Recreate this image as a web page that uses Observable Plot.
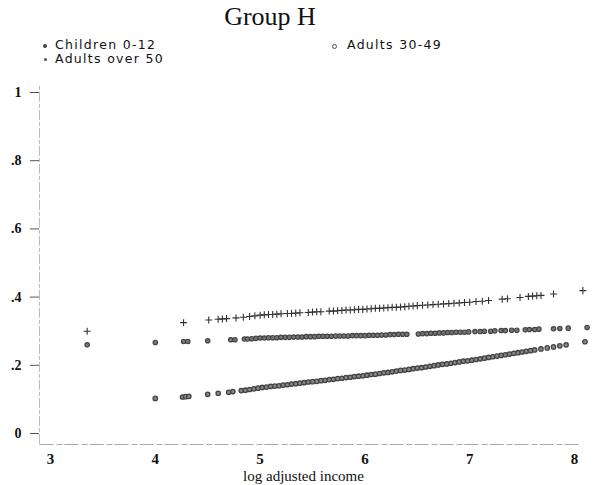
<!DOCTYPE html>
<html>
<head>
<meta charset="utf-8">
<script src="https://cdn.jsdelivr.net/npm/d3@7"></script>
<script src="https://cdn.jsdelivr.net/npm/@observablehq/plot@0.6"></script>
<style>
  html, body { margin: 0; padding: 0; background: #fff; }
  #wrap { position: relative; width: 601px; height: 485px; overflow: hidden; }
  #title { position: absolute; left: 0; width: 540px; top: 2px; text-align: center;
           font-family: "Liberation Serif", serif; font-size: 26px; color: #111; }
  .leg { position: absolute; font-family: "DejaVu Sans", sans-serif; font-size: 12.5px; line-height: 13px;
         letter-spacing: 1.3px; color: #111; white-space: nowrap; }
  .mk { display: inline-block; position: absolute; border-radius: 50%; }
  #chart { position: absolute; left: 0; top: 68px; }
</style>
</head>
<body>
<div id="wrap">
  <div id="title">Group H</div>
  <div class="leg" id="leg1" style="left:55px; top:38px;">Children 0-12</div>
  <div class="leg" id="leg2" style="left:347px; top:38px;">Adults 30-49</div>
  <div class="leg" id="leg3" style="left:55px; top:52px;">Adults over 50</div>
  <span class="mk" style="left:43px; top:44px; width:4px; height:4px; background:#444;"></span>
  <span class="mk" style="left:332px; top:44px; width:3px; height:3px; border:1px solid #555;"></span>
  <span class="mk" style="left:44px; top:58px; width:3px; height:3px; background:#555;"></span>
  <div id="chart"></div>
</div>
<script>
const seriesNames = ["Children 0-12", "Adults 30-49", "Adults over 50"];

const childX = [4.0, 4.26, 4.29, 4.32, 4.5, 4.6, 4.7, 4.74, 4.82, 4.86, 4.9, 4.94, 4.98, 5.02, 5.06, 5.1, 5.14, 5.18, 5.22, 5.26, 5.3, 5.34, 5.38, 5.42, 5.46, 5.5, 5.54, 5.58, 5.62, 5.66, 5.7, 5.74, 5.78, 5.82, 5.86, 5.9, 5.94, 5.98, 6.02, 6.06, 6.1, 6.14, 6.18, 6.22, 6.26, 6.3, 6.34, 6.38, 6.42, 6.46, 6.5, 6.54, 6.58, 6.62, 6.66, 6.7, 6.74, 6.78, 6.82, 6.86, 6.9, 6.94, 6.98, 7.02, 7.06, 7.1, 7.14, 7.18, 7.22, 7.26, 7.3, 7.34, 7.38, 7.42, 7.46, 7.5, 7.54, 7.58, 7.62, 7.68, 7.74, 7.8, 7.86, 7.92, 8.1];
const childY = [0.103, 0.107, 0.108, 0.109, 0.115, 0.118, 0.121, 0.123, 0.126, 0.127, 0.129, 0.131, 0.133, 0.135, 0.136, 0.138, 0.139, 0.140, 0.142, 0.143, 0.145, 0.146, 0.148, 0.149, 0.151, 0.152, 0.153, 0.155, 0.156, 0.158, 0.159, 0.161, 0.162, 0.164, 0.165, 0.167, 0.168, 0.169, 0.171, 0.173, 0.174, 0.176, 0.178, 0.179, 0.181, 0.183, 0.185, 0.186, 0.188, 0.190, 0.192, 0.193, 0.195, 0.197, 0.199, 0.201, 0.203, 0.204, 0.206, 0.208, 0.210, 0.212, 0.213, 0.215, 0.217, 0.219, 0.221, 0.223, 0.225, 0.227, 0.229, 0.231, 0.233, 0.235, 0.237, 0.239, 0.241, 0.243, 0.245, 0.248, 0.251, 0.254, 0.257, 0.260, 0.269];

const midX = [3.35, 4.0, 4.27, 4.31, 4.5, 4.72, 4.76, 4.85, 4.88, 4.92, 4.96, 5.0, 5.04, 5.08, 5.12, 5.16, 5.2, 5.24, 5.28, 5.32, 5.36, 5.4, 5.44, 5.48, 5.52, 5.56, 5.6, 5.64, 5.68, 5.72, 5.76, 5.8, 5.84, 5.88, 5.92, 5.96, 6.0, 6.04, 6.08, 6.12, 6.16, 6.2, 6.24, 6.28, 6.32, 6.36, 6.4, 6.51, 6.55, 6.59, 6.63, 6.67, 6.71, 6.75, 6.79, 6.83, 6.87, 6.91, 6.95, 6.99, 7.05, 7.1, 7.14, 7.2, 7.24, 7.3, 7.34, 7.4, 7.45, 7.53, 7.57, 7.62, 7.66, 7.8, 7.86, 7.94, 8.12];
const midY = [0.260, 0.267, 0.270, 0.270, 0.272, 0.275, 0.275, 0.277, 0.277, 0.278, 0.279, 0.280, 0.280, 0.281, 0.281, 0.281, 0.282, 0.282, 0.282, 0.283, 0.283, 0.283, 0.284, 0.284, 0.284, 0.285, 0.285, 0.285, 0.285, 0.286, 0.286, 0.286, 0.286, 0.287, 0.287, 0.287, 0.287, 0.288, 0.288, 0.288, 0.289, 0.289, 0.290, 0.290, 0.291, 0.291, 0.291, 0.292, 0.293, 0.293, 0.294, 0.294, 0.295, 0.295, 0.296, 0.296, 0.297, 0.297, 0.297, 0.298, 0.299, 0.299, 0.300, 0.300, 0.301, 0.302, 0.302, 0.303, 0.303, 0.304, 0.305, 0.305, 0.306, 0.307, 0.308, 0.309, 0.311];

const oldX = [3.35, 4.27, 4.51, 4.6, 4.64, 4.68, 4.77, 4.84, 4.9, 4.95, 5.0, 5.04, 5.08, 5.12, 5.16, 5.2, 5.26, 5.3, 5.34, 5.38, 5.46, 5.5, 5.54, 5.58, 5.66, 5.7, 5.74, 5.78, 5.82, 5.86, 5.9, 5.94, 5.98, 6.02, 6.06, 6.1, 6.14, 6.18, 6.22, 6.26, 6.3, 6.34, 6.38, 6.42, 6.46, 6.5, 6.55, 6.6, 6.65, 6.7, 6.75, 6.8, 6.85, 6.9, 6.95, 7.0, 7.06, 7.12, 7.18, 7.31, 7.36, 7.48, 7.56, 7.6, 7.64, 7.68, 7.8, 8.08];
const oldY = [0.300, 0.325, 0.333, 0.335, 0.336, 0.337, 0.339, 0.341, 0.343, 0.345, 0.347, 0.348, 0.349, 0.349, 0.350, 0.351, 0.352, 0.352, 0.353, 0.354, 0.355, 0.356, 0.357, 0.357, 0.359, 0.359, 0.360, 0.361, 0.362, 0.362, 0.363, 0.364, 0.364, 0.365, 0.366, 0.367, 0.367, 0.368, 0.369, 0.370, 0.370, 0.371, 0.372, 0.373, 0.374, 0.375, 0.376, 0.377, 0.378, 0.379, 0.380, 0.381, 0.382, 0.383, 0.384, 0.385, 0.387, 0.388, 0.390, 0.394, 0.395, 0.399, 0.402, 0.403, 0.404, 0.405, 0.409, 0.419];

const xTicks = [3, 4, 5, 6, 7, 8];
const xTickLabels = ["3", "4", "5", "6", "7", "8"];
const yTicks = [0, 0.2, 0.4, 0.6, 0.8, 1];
const yTickLabels = ["0", ".2", ".4", ".6", ".8", "1"];
const xLabel = "log adjusted income";

const toRows = (xs, ys) => xs.map((x, i) => ({x, y: ys[i]}));
const child = toRows(childX, childY);
const mid = toRows(midX, midY);
const old = toRows(oldX, oldY);

const tickFont = "Liberation Serif, serif";

const chart = Plot.plot({
  width: 601,
  height: 417,
  marginLeft: 50,
  marginRight: 27,
  marginTop: 24,
  marginBottom: 52,
  x: {domain: [3, 8]},
  y: {domain: [0, 1]},
  style: {background: "transparent", color: "#111"},
  marks: [
    Plot.ruleY([0], {x1: 2.9, x2: 8.05, dy: 11, stroke: "#aaa", strokeWidth: 1.2, strokeDasharray: "14,3,6,2"}),
    Plot.ruleX([3], {y1: -0.032, y2: 1.02, dx: -11, stroke: "#bbb", strokeWidth: 1, strokeDasharray: "10,2,4,2"}),
    Plot.axisY({ticks: yTicks, tickFormat: d => yTickLabels[yTicks.indexOf(d)], tickSize: 9, dx: -11, tickPadding: 9,
                fontSize: 14, fontFamily: tickFont, fontWeight: "bold", stroke: "#555", label: null}),
    Plot.axisX({ticks: xTicks, tickFormat: d => xTickLabels[xTicks.indexOf(d)], tickSize: 0, tickPadding: 20,
                fontSize: 15, fontFamily: tickFont, fontWeight: "bold", label: null}),
    Plot.text([xLabel], {frameAnchor: "bottom", dy: 47, dx: -9, lineAnchor: "bottom", fontSize: 15,
                         fontFamily: tickFont, fill: "#111", text: d => d}),
    Plot.dot(child, {x: "x", y: "y", r: 2.2, stroke: "#444", strokeWidth: 1.3, fill: "#888"}),
    Plot.dot(mid, {x: "x", y: "y", r: 2.2, stroke: "#444", strokeWidth: 1.2, fill: "#777"}),
    Plot.dot(old, {x: "x", y: "y", symbol: "plus", r: 2.4, stroke: "#333", strokeWidth: 1.1})
  ]
});
document.getElementById("chart").appendChild(chart);
</script>
</body>
</html>
